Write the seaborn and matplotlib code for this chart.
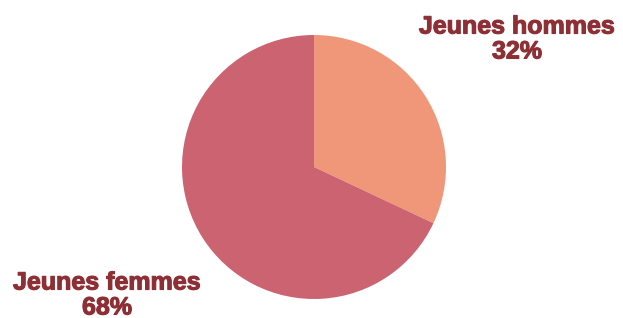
import matplotlib
matplotlib.use("Agg")
import matplotlib.pyplot as plt
import matplotlib.patheffects as pe
import seaborn as sns

# data
categories = ["Jeunes hommes", "Jeunes femmes"]
shares = [32, 68]
colors = ["#F0977A", "#CC6370"]
text_color = "#8E2F35"

sns.set_theme(style="white")
plt.rcParams['font.family'] = ['Liberation Sans', 'DejaVu Sans']

fig = plt.figure(figsize=(6.23, 3.18), dpi=100)
fig.patch.set_facecolor("white")

# pie centered at (314, 167) px from top-left, radius ~132 px
W, H = 623, 318
cx, cy, r = 314, 167, 132
ax = fig.add_axes([(cx - r) / W, (H - cy - r) / H, 2 * r / W, 2 * r / H])
ax.pie(shares, colors=colors, startangle=90, counterclock=False,
       radius=1, wedgeprops=dict(linewidth=0))
ax.set_xlim(-1, 1)
ax.set_ylim(-1, 1)
ax.set_aspect("equal")
ax.axis("off")

label_pos = [(517, 39), (107, 295)]
for name, val, (px, py) in zip(categories, shares, label_pos):
    fig.text(px / W, 1 - py / H, f"{name}\n{val}%", ha="center", va="center",
             fontsize=18, fontweight="bold", color=text_color, linespacing=1.05,
             path_effects=[pe.withStroke(linewidth=0.8, foreground=text_color)])

fig.savefig("out.png", dpi=100)
